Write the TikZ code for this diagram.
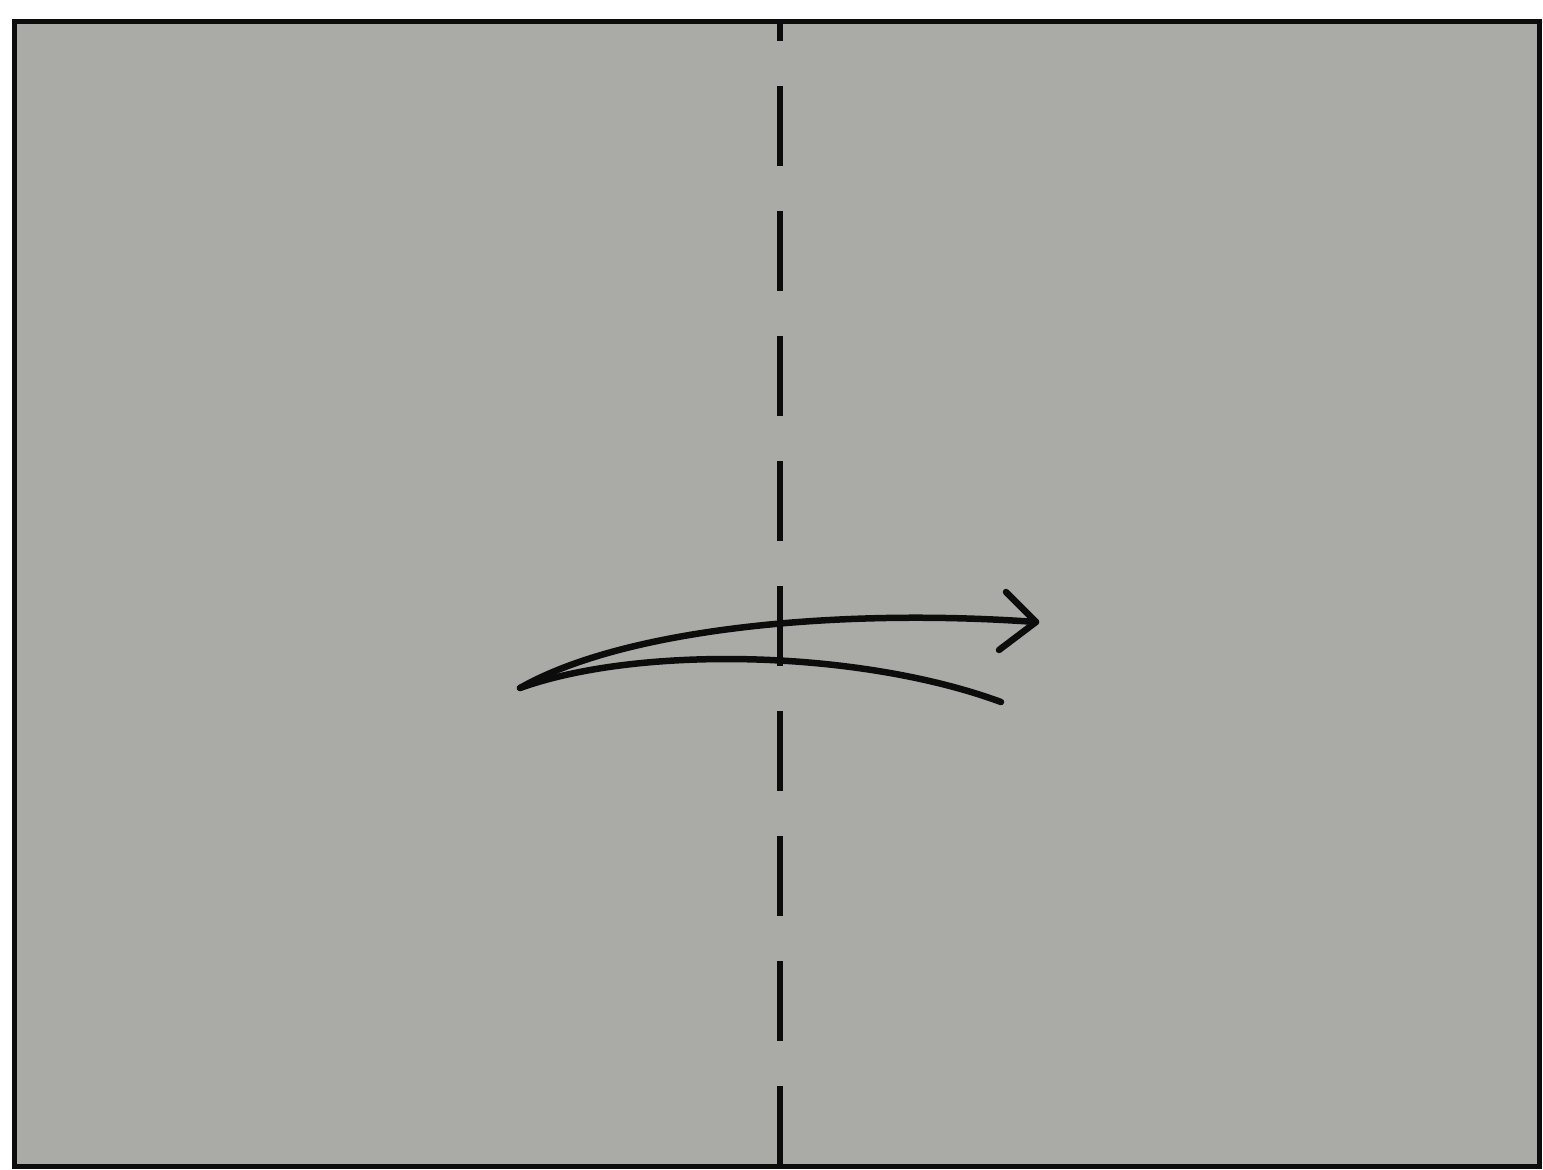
\documentclass[tikz,border=0pt]{standalone}
\definecolor{paper}{RGB}{170,170,167}
\definecolor{ink}{RGB}{12,12,12}
\tikzset{
  valley/.style={draw=ink, line width=6pt, dash pattern=on 80pt off 45pt, dash phase=60pt},
  frame/.style={draw=ink, line width=5pt, fill=paper},
  stroke/.style={draw=ink, line width=6.5pt, line cap=round, line join=round}
}
\begin{document}
\begin{tikzpicture}[x=1pt,y=-1pt]
\useasboundingbox (0,0) rectangle (1543,1170);
\fill[white] (0,0) rectangle (1543,1170);
% paper
\draw[frame] (14,21) rectangle (1539,1166);
% valley fold line
\coordinate (ftop) at (780,21);
\coordinate (fbot) at (780,1166);
\draw[valley] (ftop) -- (fbot);
% fold arrow
\coordinate (start) at (520,688);
\coordinate (tip) at (1036,622);
\coordinate (lend) at (1001,702);
\coordinate (barbA) at (1006,592);
\coordinate (barbB) at (999,650);
\draw[stroke] (start) .. controls (625,628) and (840,608) .. (tip);
\draw[stroke] (barbA) -- (tip) -- (barbB);
\draw[stroke] (start) .. controls (640,645) and (860,650) .. (lend);
\end{tikzpicture}
\end{document}
